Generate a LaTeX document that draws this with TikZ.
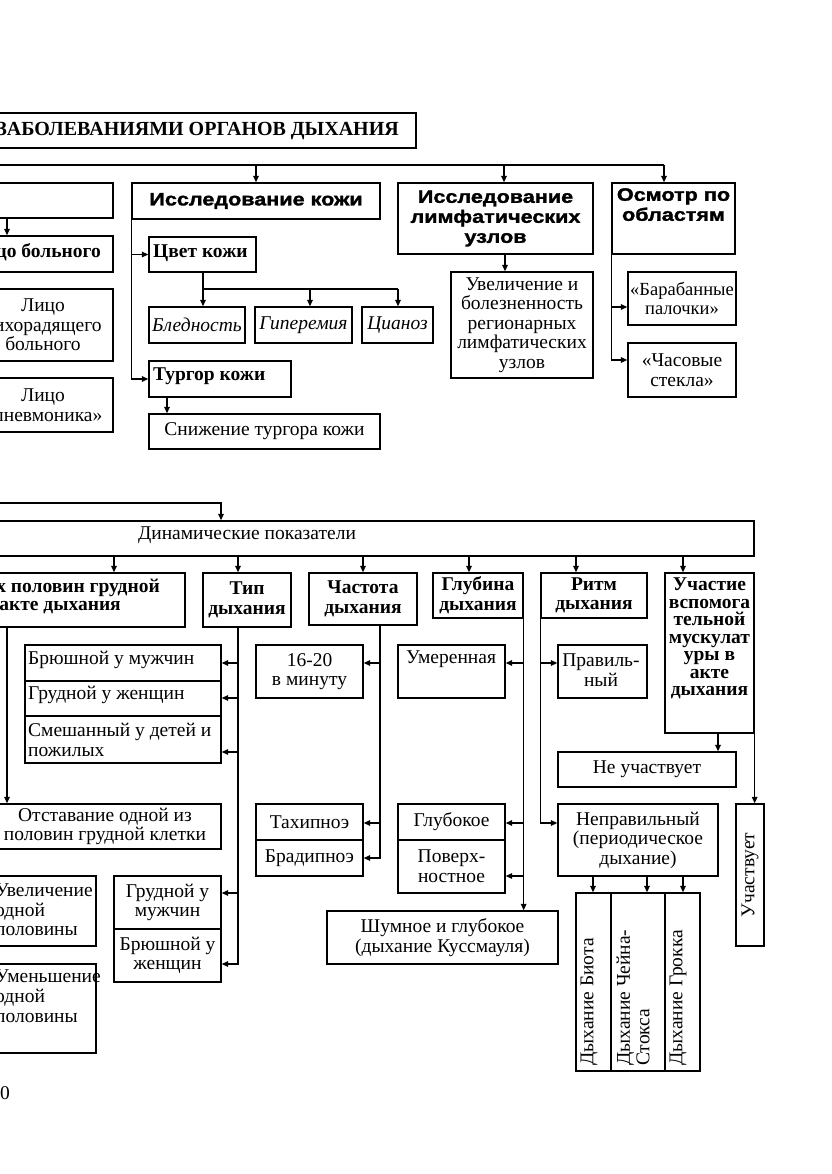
\documentclass[tikz,border=0pt]{standalone}
\usepackage{fontspec}
\setmainfont{Liberation Serif}
\newfontfamily\hs[FakeStretch=1.2,FakeBold=1.6]{Liberation Sans}
\usetikzlibrary{arrows.meta}
\newcommand\fs{\fontsize{19.5pt}{19.6pt}\selectfont}
\newcommand\hsf{\hs\bfseries\fontsize{18pt}{20pt}\selectfont}
% box only: name, x1,y1,x2,y2
\newcommand\Bx[5]{\node[bx, minimum width={(#4)-(#2)}, minimum height={(#5)-(#3)}] (#1) at ({((#2)+(#4))/2},{((#3)+(#5))/2}) {};}
% box with centred text
\newcommand\Bt[7][]{\Bx{#2}{#3}{#4}{#5}{#6}\node[tx,#1] (#2-t) at (#2.center) {#7};}
\begin{document}
\begin{tikzpicture}[x=1pt,y=-1pt,
 bx/.style={draw, line width=1.3pt, inner sep=0pt},
 tx/.style={inner sep=0pt, align=center, font=\fs},
 bt/.style={tx, font=\fs\bfseries},
 hd/.style={tx, font=\hsf},
 arr/.style={line width=1.3pt, -{Triangle[length=6.5pt,width=5.5pt]}},
 ln/.style={line width=1.3pt}]
\useasboundingbox (0,0) rectangle (831,1174);
\fill[white] (0,0) rectangle (831,1174);
\clip (0,0) rectangle (831,1174);

% ---------- top part ----------
\Bx{title}{-40}{113}{416}{148}
\node[bt, anchor=east, font=\bfseries\fontsize{20pt}{20pt}\selectfont] (title-t) at (399,131) {ЗАБОЛЕВАНИЯМИ ОРГАНОВ ДЫХАНИЯ};

\coordinate (bus1L) at (-20,165);
\coordinate (bus1R) at (664,165);
\draw[ln] (bus1L) -- (bus1R);

\Bx{lico0}{-120}{183}{113}{218}
\Bx{lico1}{-120}{236}{113}{272}
\node[bt, anchor=east] (lico1-t) at (101,252) {Лицо больного};
\draw[arr] (lico0.south -| 7,0) -- (lico1.north -| 7,0);
\Bt{lico2}{-27}{289}{113}{361}{Лицо\\лихорадящего\\больного}
\Bt{lico3}{-27}{378}{113}{432}{Лицо\\«пневмоника»}

\Bt[hd]{kozha}{132}{183}{380}{219}{Исследование кожи}
\draw[arr] (bus1L -| kozha.north) -- (kozha.north);

\Bx{cvet}{149}{237}{256}{272}
\node[bt, anchor=west] (cvet-t) at (153,253) {Цвет кожи};
\Bx{turgor}{149}{361}{291}{397}
\node[bt, anchor=west] (turgor-t) at (153,376) {Тургор кожи};
\draw[arr] (kozha.south west) |- (turgor.west);
\draw[arr] (kozha.south west |- cvet.west) -- (cvet.west);

\Bt[font=\fs\itshape]{bled}{149}{307}{245}{343}{Бледность}
\Bt[font=\fs\itshape]{gip}{255}{307}{352}{343}{Гиперемия}
\Bt[font=\fs\itshape]{cian}{362}{307}{433}{343}{Цианоз}
\coordinate (cbus) at (203,289);
\draw[arr] (cvet.south -| cbus) -- (bled.north -| cbus);
\draw[ln] (cbus) -- (398,289);
\draw[arr] (310,289) -- (gip.north -| 310,0);
\draw[arr] (398,289) -- (cian.north -| 398,0);

\Bt{snizh}{149}{414}{380}{449}{Снижение тургора кожи}
\draw[arr] (turgor.south -| 167,0) -- (snizh.north -| 167,0);

\Bt[hd]{lymph}{398}{183}{593}{254}{Исследование\\лимфатических\\узлов}
\draw[arr] (504,165) -- (lymph.north -| 504,0);
\Bt{uvel}{451}{272}{593}{378}{Увеличение и\\болезненность\\регионарных\\лимфатических\\узлов}
\draw[arr] (lymph.south -| 505,0) -- (uvel.north -| 505,0);

\Bx{osm}{612}{183}{735}{254}
\node[hd, anchor=north] (osm-t) at (673.5,188) {Осмотр по\\областям};
\draw[arr] (bus1R) -- (osm.north -| bus1R);
\Bt[font=\fontsize{18.5pt}{19.6pt}\selectfont]{bar}{628}{272}{736}{325}{«Барабанные\\палочки»}
\Bt{chas}{628}{343}{736}{397}{«Часовые\\стекла»}
\draw[arr] (osm.south west) |- (chas.west |- 0,360);
\draw[arr] (osm.south west |- 0,307) -- (bar.west |- 0,307);

% ---------- bottom part ----------
\coordinate (bus2L) at (-20,503);
\Bx{dyn}{-40}{521}{754}{556}
\node[tx] (dyn-t) at (247,535) {Динамические показатели};
\draw[arr] (bus2L) -| (dyn.north -| 221,0);

% symmetry
\Bx{sym}{-60}{573}{185}{627}
\node[bt, anchor=east] (sym-t1) at (160,588) {обеих половин грудной};
\node[bt, anchor=east] (sym-t2) at (121,608) {клетки в акте дыхания};
\draw[arr] (dyn.south -| 114,0) -- (sym.north -| 114,0);
\Bt{otst}{-11}{804}{221}{849}{Отставание одной из\\половин грудной клетки}
\draw[arr] (sym.south -| 7,0) -- (otst.north -| 7,0);
\Bx{uvl}{-60}{876}{96}{946}
\node[tx, anchor=west, align=left] (uvl-t) at (-5,910) {Увеличение\\одной\\половины};
\Bx{uml}{-60}{964}{96}{1053}
\node[tx, anchor=north west, align=left] (uml-t) at (-5,970) {Уменьшение\\одной\\половины};

% type
\Bt[bt]{tip}{203}{573}{291}{627}{Тип\\дыхания}
\draw[arr] (dyn.south -| 238,0) -- (tip.north -| 238,0);
\Bx{t1}{25}{645}{221}{681}
\node[tx, anchor=west] (t1-t) at (28,660) {Брюшной у мужчин};
\Bx{t2}{25}{681}{221}{716}
\node[tx, anchor=west] (t2-t) at (28,695) {Грудной у женщин};
\Bx{t3}{25}{716}{221}{763}
\node[tx, anchor=west, align=left] (t3-t) at (28,740) {Смешанный у детей и\\пожилых};
\Bt{gm}{114}{876}{221}{929}{Грудной у\\мужчин}
\Bt{bzh}{114}{929}{221}{982}{Брюшной у\\женщин}
\draw[arr] (tip.south -| 238,0) |- (bzh.east |- 0,964);
\draw[arr] (238,663) -- (t1.east |- 0,663);
\draw[arr] (238,698) -- (t2.east |- 0,698);
\draw[arr] (238,752) -- (t3.east |- 0,752);
\draw[arr] (238,893) -- (gm.east |- 0,893);

% frequency
\Bt[bt]{chast}{309}{573}{417}{625}{Частота\\дыхания}
\draw[arr] (dyn.south -| 363,0) -- (chast.north -| 363,0);
\Bt{c1}{256}{645}{363}{698}{16-20\\в минуту}
\Bt{tah}{256}{804}{363}{840}{Тахипноэ}
\Bt{brad}{256}{840}{363}{876}{Брадипноэ}
\draw[arr] (chast.south -| 380,0) |- (brad.east |- 0,858);
\draw[arr] (380,663) -- (c1.east |- 0,663);
\draw[arr] (380,823) -- (tah.east |- 0,823);

% depth
\Bt[bt]{glub}{433}{573}{523}{618}{Глубина\\дыхания}
\draw[arr] (dyn.south -| 469,0) -- (glub.north -| 469,0);
\Bx{um}{398}{645}{505}{698}
\node[tx] (um-t) at (451,659) {Умеренная};
\Bt{glk}{398}{804}{505}{840}{Глубокое}
\Bt{pov}{398}{840}{505}{893}{Поверх-\\ностное}
\Bt{shum}{327}{911}{558}{964}{Шумное и глубокое\\(дыхание Куссмауля)}
\draw[arr] (glub.south east) -- (shum.north -| glub.south east);
\draw[arr] (523,663) -- (um.east |- 0,663);
\draw[arr] (523,823) -- (glk.east |- 0,823);
\draw[arr] (523,876) -- (pov.east |- 0,876);

% rhythm
\Bt[bt]{ritm}{541}{573}{647}{618}{Ритм\\дыхания}
\draw[arr] (dyn.south -| 576,0) -- (ritm.north -| 576,0);
\Bx{prav}{558}{645}{647}{698}
\node[tx] (prav-t) at (601,670) {Правиль-\\ный};
\Bt{nepr}{558}{804}{718}{876}{Неправильный\\(периодическое\\дыхание)}
\draw[arr] (ritm.south west) |- (nepr.west |- 0,823);
\draw[arr] (541,663) -- (prav.west |- 0,663);
\Bx{col1}{576}{893}{611}{1071}
\Bx{col2}{611}{893}{665}{1071}
\Bx{col3}{665}{893}{700}{1071}
\node[tx, rotate=90, anchor=west] (col1-t) at (589,1066) {Дыхание Биота};
\node[tx, rotate=90, anchor=west, align=left] (col2-t) at (633,1066) {Дыхание Чейна-\\Стокса};
\node[tx, rotate=90, anchor=west] (col3-t) at (678,1066) {Дыхание Грокка};
\draw[arr] (nepr.south -| 593,0) -- (col1.north -| 593,0);
\draw[arr] (nepr.south -| 647,0) -- (col2.north -| 647,0);
\draw[arr] (nepr.south -| 683,0) -- (col3.north -| 683,0);

% accessory muscles
\Bx{uch}{665}{573}{754}{733}
\node[tx, anchor=north, font=\bfseries\fontsize{19.5pt}{17.5pt}\selectfont] (uch-t) at (709.5,578) {Участие\\вспомога\\тельной\\мускулат\\уры в\\акте\\дыхания};
\draw[arr] (dyn.south -| 683,0) -- (uch.north -| 683,0);
\Bt{neu}{558}{752}{736}{787}{Не участвует}
\draw[arr] (uch.south -| 718,0) -- (neu.north -| 718,0);
\Bx{uchv}{736}{804}{764}{946}
\node[tx, rotate=90] (uchv-t) at (750,875) {Участвует};
\draw[arr] (uch.south east) -- (uchv.north -| uch.south east);

\node[tx, anchor=west] (pg) at (0,1093) {0};
\end{tikzpicture}
\end{document}
